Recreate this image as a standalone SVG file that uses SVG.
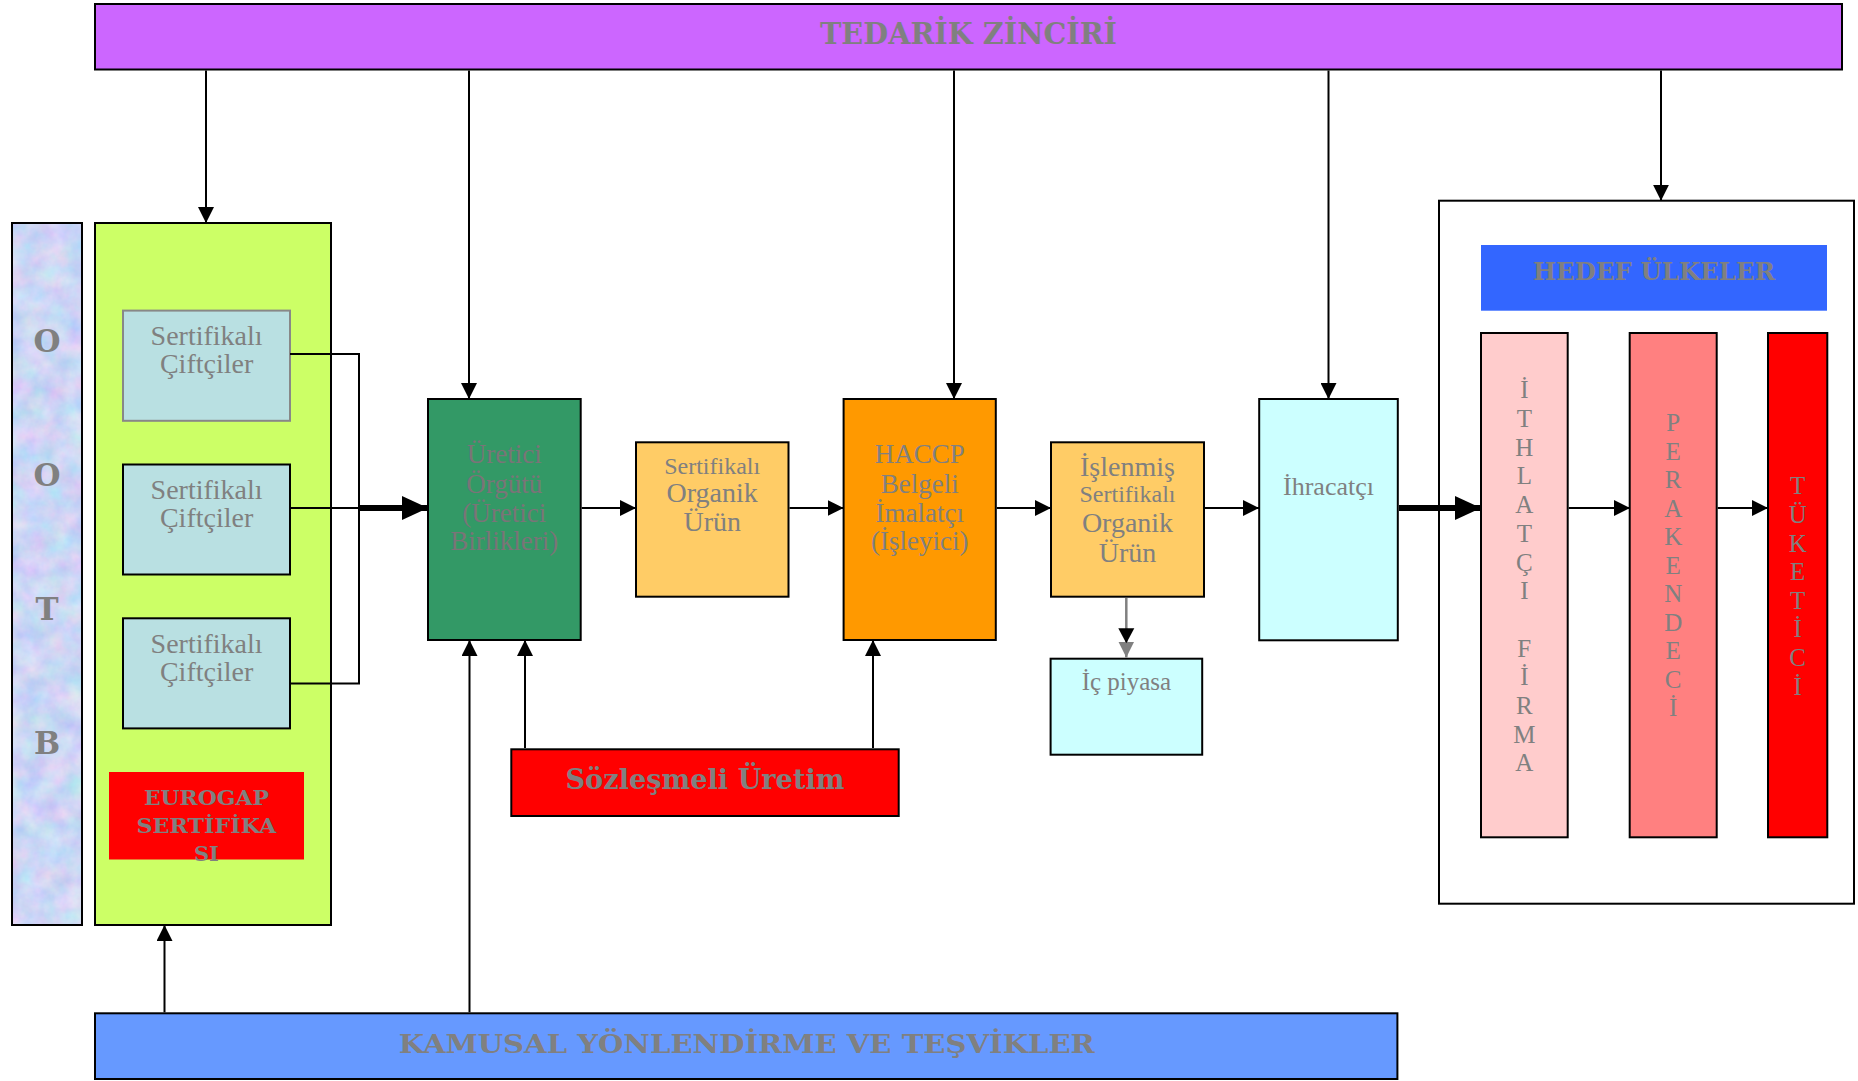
<svg xmlns="http://www.w3.org/2000/svg" width="1858" height="1081" viewBox="0 0 1858 1081">
<defs>
<style>
.box{stroke:#000;stroke-width:2}
.t{font-family:"Liberation Serif","DejaVu Serif",serif;fill:#808080;text-anchor:middle}
.b{font-family:"DejaVu Serif","Liberation Serif",serif;font-weight:bold;fill:#808080;text-anchor:middle}
.c{stroke:#000;stroke-width:2;fill:none}
.thick{stroke:#000;stroke-width:6;fill:none}
</style>
<marker id="ah" markerUnits="userSpaceOnUse" markerWidth="16" markerHeight="16" refX="15" refY="7.5" orient="auto" viewBox="0 0 15 15">
<path d="M0,0 L15,7.5 L0,15 z" fill="#000"/>
</marker>
<marker id="ahg" markerUnits="userSpaceOnUse" markerWidth="16" markerHeight="16" refX="15" refY="7.5" orient="auto" viewBox="0 0 15 15">
<path d="M0,0 L15,7.5 L0,15 z" fill="#808080"/>
</marker>
<marker id="big" markerUnits="userSpaceOnUse" markerWidth="26" markerHeight="24" refX="25" refY="11.5" orient="auto" viewBox="0 0 25 23">
<path d="M0,0 L25,11.5 L0,23 z" fill="#000"/>
</marker>
<filter id="tex" x="0" y="0" width="100%" height="100%" color-interpolation-filters="sRGB">
<feTurbulence type="fractalNoise" baseFrequency="0.045" numOctaves="4" seed="5"/>
<feColorMatrix type="matrix" values="0.3 0 0 0 0.65  0 0.2 0 0 0.74  0 0 0.08 0 0.92  0 0 0 0 1"/>
</filter>
</defs>
<rect width="1858" height="1081" fill="#fff"/>

<g id="tedarik">
<rect class="box" x="95" y="4" width="1747" height="65.5" fill="#CC66FF"/>
<text class="b" x="968.5" y="44.3" font-size="29" textLength="297" lengthAdjust="spacingAndGlyphs">TEDARİK ZİNCİRİ</text>
</g>

<g id="ootb">
<rect x="12" y="223" width="70" height="702" fill="#C8D6F4" filter="url(#tex)"/>
<rect x="12" y="223" width="70" height="702" fill="none" stroke="#000" stroke-width="2"/>
<text class="b" x="47" font-size="31"><tspan x="47" y="352">O</tspan><tspan x="47" y="486">O</tspan><tspan x="47" y="620">T</tspan><tspan x="47" y="754">B</tspan></text>
</g>

<g id="ciftci-grup">
<rect class="box" x="95" y="223" width="236" height="702" fill="#CCFF66"/>
</g>
<g id="ciftci1">
<rect x="123" y="310.6" width="167" height="110.2" fill="#B9E0E2" stroke="#888" stroke-width="2"/>
<text class="t" font-size="28"><tspan x="206.6" y="345">Sertifikalı</tspan><tspan x="206.6" y="373">Çiftçiler</tspan></text>
</g>
<g id="ciftci2">
<rect class="box" x="123" y="464.5" width="167" height="110" fill="#B9E0E2"/>
<text class="t" font-size="28"><tspan x="206.6" y="499">Sertifikalı</tspan><tspan x="206.6" y="527">Çiftçiler</tspan></text>
</g>
<g id="ciftci3">
<rect class="box" x="123" y="618.3" width="167" height="110.1" fill="#B9E0E2"/>
<text class="t" font-size="28"><tspan x="206.6" y="652.8">Sertifikalı</tspan><tspan x="206.6" y="680.8">Çiftçiler</tspan></text>
</g>
<g id="eurogap">
<rect x="109" y="772" width="195" height="87.5" fill="#FF0000"/>
<text class="b" font-size="21"><tspan x="206.4" y="804.7" textLength="125" lengthAdjust="spacingAndGlyphs">EUROGAP</tspan><tspan x="206.4" y="832.6" textLength="140" lengthAdjust="spacingAndGlyphs">SERTİFİKA</tspan><tspan x="206.4" y="861">SI</tspan></text>
</g>

<g id="uretici-orgutu">
<rect class="box" x="428" y="399" width="152.7" height="241" fill="#339966"/>
<text class="t" font-size="27" style="fill:#7a7478"><tspan x="504.3" y="463">Üretici</tspan><tspan x="504.3" y="492.5">Örgütü</tspan><tspan x="504.3" y="521.5">(Üretici</tspan><tspan x="504.3" y="550">Birlikleri)</tspan></text>
</g>

<g id="sertifikali-urun">
<rect class="box" x="636" y="442.3" width="152.5" height="154.4" fill="#FFCC66"/>
<text class="t"><tspan x="712.2" y="474" font-size="24">Sertifikalı</tspan><tspan x="712.2" y="501.7" font-size="28">Organik</tspan><tspan x="712.2" y="530.7" font-size="28">Ürün</tspan></text>
</g>

<g id="haccp">
<rect class="box" x="843.6" y="399" width="152.2" height="241" fill="#FF9900"/>
<text class="t" font-size="27"><tspan x="919.7" y="463.3">HACCP</tspan><tspan x="919.7" y="492.7">Belgeli</tspan><tspan x="919.7" y="521.7">İmalatçı</tspan><tspan x="919.7" y="550">(İşleyici)</tspan></text>
</g>

<g id="islenmis-urun">
<rect class="box" x="1051" y="442.3" width="153" height="154.4" fill="#FFCC66"/>
<text class="t"><tspan x="1127.5" y="475.7" font-size="28">İşlenmiş</tspan><tspan x="1127.5" y="502" font-size="24">Sertifikalı</tspan><tspan x="1127.5" y="532" font-size="28">Organik</tspan><tspan x="1127.5" y="561.7" font-size="28">Ürün</tspan></text>
</g>

<g id="ic-piyasa">
<rect class="box" x="1050.6" y="658.7" width="151.6" height="96" fill="#CCFFFF"/>
<text class="t" x="1126.4" y="690" font-size="25">İç piyasa</text>
</g>

<g id="ihracatci">
<rect class="box" x="1259.2" y="399" width="138.6" height="241.3" fill="#CCFFFF"/>
<text class="t" x="1328.5" y="495" font-size="26">İhracatçı</text>
</g>

<g id="sozlesmeli">
<rect class="box" x="511.3" y="749.3" width="387.4" height="66.7" fill="#FF0000" stroke-width="2.5"/>
<text class="b" x="705" y="789.3" font-size="27" textLength="279" lengthAdjust="spacingAndGlyphs">Sözleşmeli Üretim</text>
</g>

<g id="hedef-ulkeler">
<rect x="1439" y="200.7" width="415" height="703" fill="none" stroke="#000" stroke-width="2"/>
<rect x="1481" y="245" width="346" height="65.7" fill="#3366FF"/>
<text class="b" x="1654" y="280" font-size="23.5" textLength="242" lengthAdjust="spacingAndGlyphs">HEDEF ÜLKELER</text>
</g>

<g id="ithalatci">
<rect class="box" x="1481" y="333" width="86.7" height="504.3" fill="#FFCCCC"/>
<text class="t" font-size="25"><tspan x="1524.3" y="398.3">İ</tspan><tspan x="1524.3" dy="28.7">T</tspan><tspan x="1524.3" dy="28.7">H</tspan><tspan x="1524.3" dy="28.7">L</tspan><tspan x="1524.3" dy="28.7">A</tspan><tspan x="1524.3" dy="28.7">T</tspan><tspan x="1524.3" dy="28.7">Ç</tspan><tspan x="1524.3" dy="28.7">I</tspan><tspan x="1524.3" dy="57.4">F</tspan><tspan x="1524.3" dy="28.7">İ</tspan><tspan x="1524.3" dy="28.7">R</tspan><tspan x="1524.3" dy="28.7">M</tspan><tspan x="1524.3" dy="28.7">A</tspan></text>
</g>

<g id="perakendeci">
<rect class="box" x="1629.7" y="333" width="87" height="504.3" fill="#FF8080"/>
<text class="t" font-size="25"><tspan x="1673.2" y="431">P</tspan><tspan x="1673.2" dy="28.5">E</tspan><tspan x="1673.2" dy="28.5">R</tspan><tspan x="1673.2" dy="28.5">A</tspan><tspan x="1673.2" dy="28.5">K</tspan><tspan x="1673.2" dy="28.5">E</tspan><tspan x="1673.2" dy="28.5">N</tspan><tspan x="1673.2" dy="28.5">D</tspan><tspan x="1673.2" dy="28.5">E</tspan><tspan x="1673.2" dy="28.5">C</tspan><tspan x="1673.2" dy="28.5">İ</tspan></text>
</g>

<g id="tuketici">
<rect class="box" x="1768" y="333" width="59.3" height="504.3" fill="#FF0000"/>
<text class="t" font-size="25"><tspan x="1797.7" y="494.3">T</tspan><tspan x="1797.7" dy="28.6">Ü</tspan><tspan x="1797.7" dy="28.6">K</tspan><tspan x="1797.7" dy="28.6">E</tspan><tspan x="1797.7" dy="28.6">T</tspan><tspan x="1797.7" dy="28.6">İ</tspan><tspan x="1797.7" dy="28.6">C</tspan><tspan x="1797.7" dy="28.6">İ</tspan></text>
</g>

<g id="kamusal">
<rect class="box" x="95" y="1013.3" width="1302.4" height="65.7" fill="#6699FF"/>
<text class="b" x="746.8" y="1053.3" font-size="26.5" textLength="696" lengthAdjust="spacingAndGlyphs">KAMUSAL YÖNLENDİRME VE TEŞVİKLER</text>
</g>

<g id="connectors">
<line class="c" x1="206" y1="70.5" x2="206" y2="223" marker-end="url(#ah)"/>
<line class="c" x1="469" y1="70.5" x2="469" y2="399" marker-end="url(#ah)"/>
<line class="c" x1="954" y1="70.5" x2="954" y2="399" marker-end="url(#ah)"/>
<line class="c" x1="1328.5" y1="70.5" x2="1328.5" y2="399" marker-end="url(#ah)"/>
<line class="c" x1="1661" y1="70.5" x2="1661" y2="200.7" marker-end="url(#ah)"/>
<polyline class="c" points="290,354 359,354 359,683.5 290,683.5"/>
<line class="c" x1="290" y1="508" x2="359" y2="508"/>
<line class="thick" x1="359" y1="508" x2="428" y2="508" marker-end="url(#big)"/>
<line class="c" x1="581.7" y1="508" x2="636" y2="508" marker-end="url(#ah)"/>
<line class="c" x1="789.5" y1="508" x2="843.6" y2="508" marker-end="url(#ah)"/>
<line class="c" x1="996.8" y1="508" x2="1051" y2="508" marker-end="url(#ah)"/>
<line class="c" x1="1205" y1="508" x2="1259" y2="508" marker-end="url(#ah)"/>
<line class="thick" x1="1399" y1="508" x2="1481" y2="508" marker-end="url(#big)"/>
<line class="c" x1="1568.7" y1="508" x2="1630" y2="508" marker-end="url(#ah)"/>
<line class="c" x1="1717.7" y1="508" x2="1768" y2="508" marker-end="url(#ah)"/>
<line x1="1126.3" y1="598" x2="1126.3" y2="657.5" stroke="#808080" stroke-width="2.5" marker-end="url(#ahg)"/>
<path d="M1118.3,628.3 L1134.3,628.3 L1126.3,643.3 z" fill="#000"/>
<line class="c" x1="164.5" y1="1012.3" x2="164.5" y2="925" marker-end="url(#ah)"/>
<line class="c" x1="469.5" y1="1012.3" x2="469.5" y2="640" marker-end="url(#ah)"/>
<line class="c" x1="525" y1="748" x2="525" y2="640" marker-end="url(#ah)"/>
<line class="c" x1="873" y1="748" x2="873" y2="640" marker-end="url(#ah)"/>
</g>
</svg>
